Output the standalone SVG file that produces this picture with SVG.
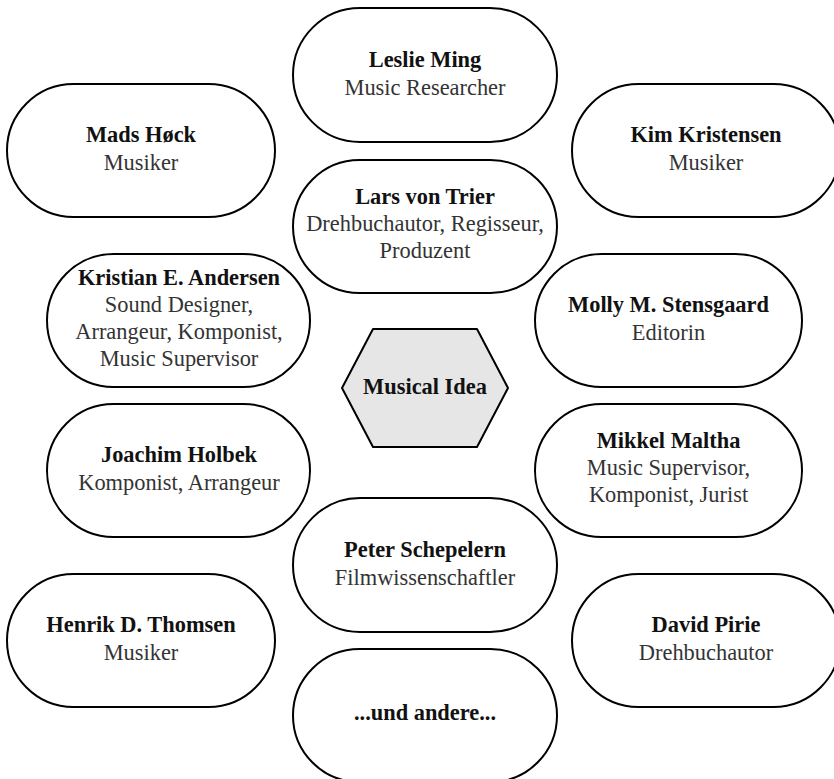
<svg xmlns="http://www.w3.org/2000/svg" width="834" height="779" viewBox="0 0 834 779">
<style>
.box{fill:#fff;stroke:#000;stroke-width:2}
.hex{fill:#e6e6e6;stroke:#000;stroke-width:2;stroke-linejoin:round}
text{font-family:"Liberation Serif","Times New Roman",serif;font-size:22.4px;text-anchor:middle}
.n{font-weight:bold;fill:#111}
.r{fill:#333}
</style>
<rect width="834" height="779" fill="#fff"/>
<g id="connectors"/>
<g id="leslie"><rect class="box" x="293" y="8" width="264" height="134" rx="67"/><text class="n" x="425" y="67">Leslie Ming</text><text class="r" x="425" y="94.5">Music Researcher</text></g>
<g id="mads"><rect class="box" x="7" y="84" width="268" height="133" rx="66.5"/><text class="n" x="141" y="141.5">Mads Høck</text><text class="r" x="141" y="169.5">Musiker</text></g>
<g id="kim"><rect class="box" x="572" y="84" width="268" height="133" rx="66.5"/><text class="n" x="706" y="141.5">Kim Kristensen</text><text class="r" x="706" y="169.5">Musiker</text></g>
<g id="lars"><rect class="box" x="293" y="160" width="264" height="133" rx="66.5"/><text class="n" x="425" y="203.5">Lars von Trier</text><text class="r" x="425" y="230.5">Drehbuchautor, Regisseur,</text><text class="r" x="425" y="257.5">Produzent</text></g>
<g id="kristian"><rect class="box" x="47" y="254" width="263" height="133" rx="66.5"/><text class="n" x="179" y="285">Kristian E. Andersen</text><text class="r" x="179" y="312">Sound Designer,</text><text class="r" x="179" y="339">Arrangeur, Komponist,</text><text class="r" x="179" y="366">Music Supervisor</text></g>
<g id="molly"><rect class="box" x="535" y="254" width="267" height="133" rx="66.5"/><text class="n" x="668.5" y="311.5">Molly M. Stensgaard</text><text class="r" x="668.5" y="339.5">Editorin</text></g>
<g id="idea"><polygon class="hex" points="342,388 373,329 477,329 508,388 477,447 373,447"/><text class="n" x="425" y="394">Musical Idea</text></g>
<g id="joachim"><rect class="box" x="47" y="404" width="263" height="133" rx="66.5"/><text class="n" x="179" y="461.5">Joachim Holbek</text><text class="r" x="179" y="489.5">Komponist, Arrangeur</text></g>
<g id="mikkel"><rect class="box" x="535" y="404" width="267" height="133" rx="66.5"/><text class="n" x="668.5" y="447.5">Mikkel Maltha</text><text class="r" x="668.5" y="474.5">Music Supervisor,</text><text class="r" x="668.5" y="501.5">Komponist, Jurist</text></g>
<g id="peter"><rect class="box" x="293" y="498" width="264" height="134" rx="67"/><text class="n" x="425" y="556.5">Peter Schepelern</text><text class="r" x="425" y="584.5">Filmwissenschaftler</text></g>
<g id="henrik"><rect class="box" x="7" y="574" width="268" height="133" rx="66.5"/><text class="n" x="141" y="631.5">Henrik D. Thomsen</text><text class="r" x="141" y="659.5">Musiker</text></g>
<g id="david"><rect class="box" x="572" y="574" width="268" height="133" rx="66.5"/><text class="n" x="706" y="631.5">David Pirie</text><text class="r" x="706" y="659.5">Drehbuchautor</text></g>
<g id="andere"><rect class="box" x="293" y="649" width="264" height="133" rx="66.5"/><text class="n" x="425" y="720">...und andere...</text></g>
</svg>
